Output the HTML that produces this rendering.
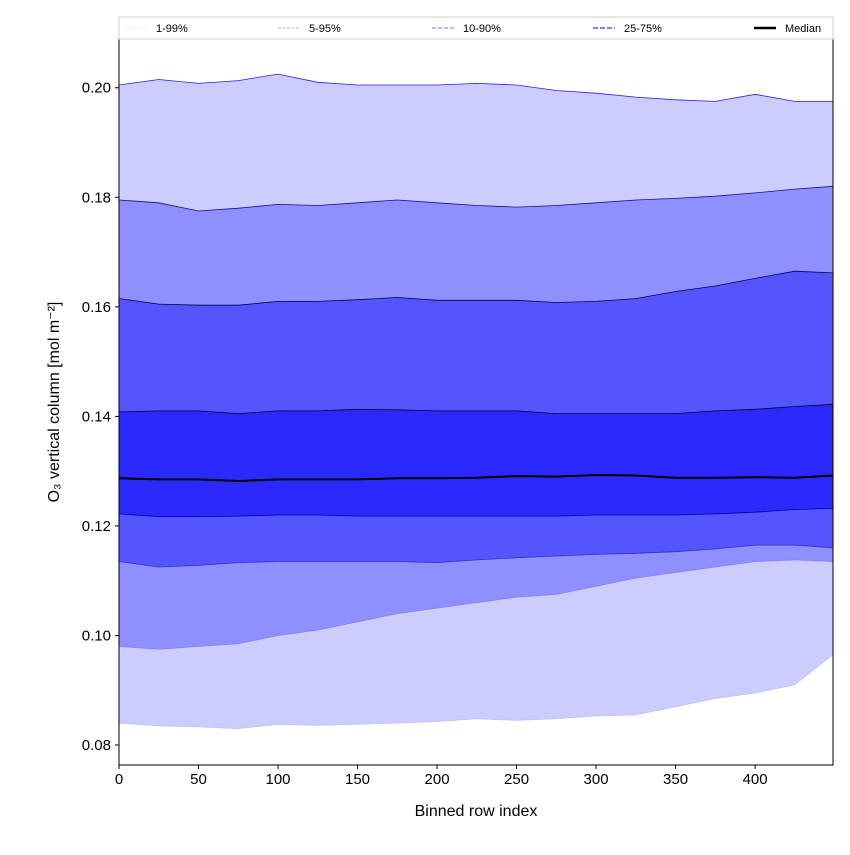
<!DOCTYPE html><html><head><meta charset="utf-8"><style>body{margin:0;background:#fff;font-family:"Liberation Sans","DejaVu Sans",sans-serif}</style></head><body>
<svg id="c" width="850" height="850" xmlns="http://www.w3.org/2000/svg"></svg>
<script>
const xs=[0,25,50,75,100,125,150,175,200,225,250,275,300,325,350,375,400,425,449];
const p99=[0.2005,0.2015,0.2008,0.2013,0.2025,0.2010,0.2005,0.2005,0.2005,0.2008,0.2005,0.1995,0.1990,0.1983,0.1978,0.1975,0.1988,0.1975,0.1975];
const p95=[0.1795,0.179,0.1775,0.178,0.1787,0.1785,0.179,0.1795,0.179,0.1785,0.1782,0.1785,0.179,0.1795,0.1798,0.1802,0.1808,0.1815,0.182];
const p90=[0.1615,0.1605,0.1603,0.1603,0.161,0.161,0.1613,0.1617,0.1612,0.1612,0.1612,0.1608,0.161,0.1615,0.1628,0.1638,0.1652,0.1665,0.1662];
const p75=[0.1408,0.141,0.141,0.1405,0.141,0.141,0.1413,0.1412,0.141,0.141,0.141,0.1405,0.1405,0.1405,0.1405,0.141,0.1413,0.1418,0.1422];
const med=[0.1287,0.1285,0.1285,0.1282,0.1285,0.1285,0.1285,0.1287,0.1287,0.1288,0.1291,0.129,0.1293,0.1292,0.1288,0.1288,0.1289,0.1288,0.1292];
const p25=[0.1222,0.1217,0.1217,0.1218,0.122,0.122,0.1218,0.1218,0.1218,0.1218,0.1218,0.1218,0.122,0.122,0.122,0.1222,0.1225,0.123,0.1232];
const p10=[0.1135,0.1125,0.1128,0.1133,0.1135,0.1135,0.1135,0.1135,0.1133,0.1138,0.1142,0.1145,0.1148,0.115,0.1153,0.1158,0.1165,0.1165,0.116];
const p5=[0.098,0.0975,0.098,0.0985,0.1,0.101,0.1025,0.104,0.105,0.106,0.107,0.1075,0.109,0.1105,0.1115,0.1125,0.1135,0.1138,0.1135];
const p1=[0.084,0.0835,0.0833,0.0830,0.0838,0.0836,0.0838,0.0840,0.0843,0.0848,0.0845,0.0848,0.0853,0.0855,0.087,0.0885,0.0895,0.091,0.0965];
const xTicks=[0,50,100,150,200,250,300,350,400];
const yTicks=[0.08,0.10,0.12,0.14,0.16,0.18,0.20];
const L=119,R=833,T=39,B=765,X0=0,X1=449,Y0=0.07635,Y1=0.2089;
const sx=v=>L+(v-X0)/(X1-X0)*(R-L), sy=v=>B-(v-Y0)/(Y1-Y0)*(B-T);
const svg=document.getElementById('c'),NS='http://www.w3.org/2000/svg';
function mk(t,a,p){const e=document.createElementNS(NS,t);for(const k in a)e.setAttribute(k,a[k]);(p||svg).appendChild(e);return e;}
const line=a=>a.map((v,i)=>(i?'L':'M')+sx(xs[i]).toFixed(1)+','+sy(v).toFixed(1)).join('');
function band(lo,hi,fill,name){const d=line(hi)+lo.slice().reverse().map((v,i)=>'L'+sx(xs[lo.length-1-i]).toFixed(1)+','+sy(v).toFixed(1)).join('')+'Z';
const e=mk('path',{d:d,fill:fill});}
band(p1,p99,'#ccccff','band-1-99');band(p5,p95,'#8f8fff','band-5-95');band(p10,p90,'#5555ff','band-10-90');band(p25,p75,'#2a2aff','band-25-75');
[[p99,'#2020ff'],[p95,'#101090'],[p90,'#000050'],[p75,'#000040'],[p25,'#0000a0'],[p10,'#3030c0'],[p5,'#8080ff'],[p1,'#c0c0ff']].forEach((s,i)=>{const e=mk('path',{d:line(s[0]),fill:'none',stroke:s[1],'stroke-width':0.8});});
const m=mk('path',{d:line(med),fill:'none',stroke:'#000','stroke-width':2});
mk('rect',{x:L,y:T,width:R-L,height:B-T,fill:'none',stroke:'#000','stroke-width':1,});
xTicks.forEach(v=>{const x=sx(v);mk('line',{x1:x,x2:x,y1:B,y2:B+4,stroke:'#000'});const t=mk('text',{x:x,y:B+19,'text-anchor':'middle','font-size':15});t.textContent=v;});
yTicks.forEach(v=>{const y=sy(v);mk('line',{x1:L-4,x2:L,y1:y,y2:y,stroke:'#000'});const t=mk('text',{x:L-8,y:y+5,'text-anchor':'end','font-size':15});t.textContent=v.toFixed(2);});
mk('text',{x:476,y:816,'text-anchor':'middle','font-size':16,}).textContent='Binned row index';
mk('text',{x:0,y:0,transform:'translate(59,402) rotate(-90)','text-anchor':'middle','font-size':16,}).textContent='O₃ vertical column [mol m⁻²]';
const lg=mk('g',{});
mk('rect',{x:119,y:17,width:714,height:22,fill:'#fff',stroke:'#ccc'},lg);
[['1-99%','#d8d8ff',0.6,'2,1',125],['5-95%','#9999ff',0.8,'3,1.5',278],['10-90%','#7777ff',1,'4,2',432],['25-75%','#5555ff',1.5,'5,2',593],['Median','#000',2.5,'',754]].forEach(e=>{
const g=mk('g',{},lg);
mk('line',{x1:e[4],x2:e[4]+22,y1:28,y2:28,stroke:e[1],'stroke-width':e[2],'stroke-dasharray':e[3]},g);
const t=mk('text',{x:e[4]+31,y:32,'font-size':11},g);t.textContent=e[0];});
</script></body></html>
